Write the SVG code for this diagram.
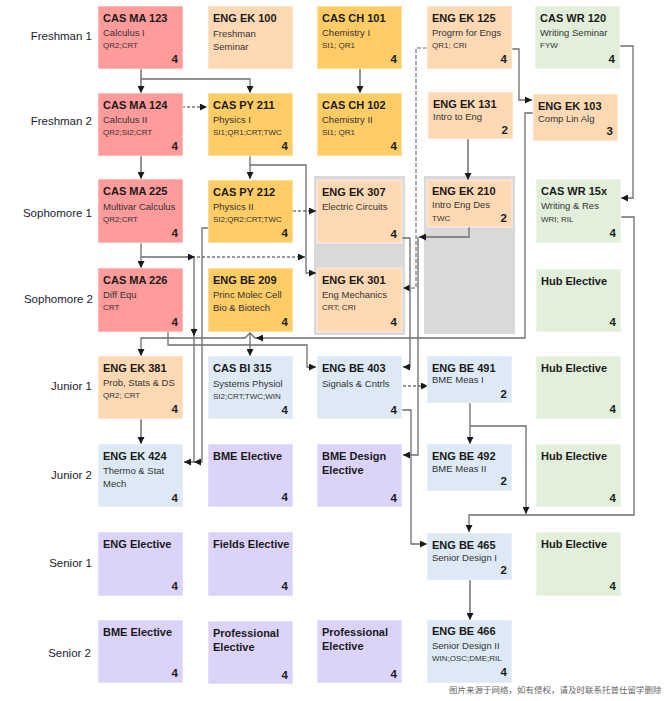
<svg xmlns="http://www.w3.org/2000/svg" width="669" height="701" viewBox="0 0 669 701">
<style>
text{font-family:"Liberation Sans",Arial,sans-serif;fill:#1a1a1a}
.t{font-size:11px;font-weight:bold}
.s{font-size:9.5px;fill:#333}
.h{font-size:8px;fill:#333}
.c{font-size:11.5px;font-weight:bold;text-anchor:end}
.lbl{font-size:11.5px;text-anchor:end;fill:#1c1c30}
.box{stroke:#ffffff;stroke-opacity:0.6;stroke-width:1}
.ma{fill:#FF9B9B}
.py{fill:#FFCC66}
.ek{fill:#FFD9B3}
.wr{fill:#E2EFDA}
.be{fill:#DDEAF6}
.el{fill:#DCD3FB}
.panel{fill:#D9D9D9}
.ln{fill:none;stroke:#6e6e6e;stroke-width:1.3}
.dk{fill:none;stroke:#4a4a4a;stroke-width:1.2}
.ds{fill:none;stroke:#333;stroke-width:1.2;stroke-dasharray:3 2}
.dg{fill:none;stroke:#666;stroke-width:1.1;stroke-dasharray:4 2}
.wm{font-family:"Noto Sans CJK SC",sans-serif;font-size:8.5px;fill:#666}
</style>
<defs>
<marker id="ar" viewBox="0 0 8 8" refX="8" refY="4" markerWidth="7" markerHeight="7" markerUnits="userSpaceOnUse" orient="auto">
<path d="M0,0 L8,4 L0,8 z" fill="#1a1a1a"/>
</marker>
</defs>
<rect width="669" height="701" fill="#ffffff"/>

<g id="row-labels">
<text class="lbl" x="92" y="40">Freshman 1</text>
<text class="lbl" x="92" y="125">Freshman 2</text>
<text class="lbl" x="92" y="217">Sophomore 1</text>
<text class="lbl" x="93" y="303">Sophomore 2</text>
<text class="lbl" x="92" y="390">Junior 1</text>
<text class="lbl" x="92" y="479">Junior 2</text>
<text class="lbl" x="92" y="567">Senior 1</text>
<text class="lbl" x="91" y="657">Senior 2</text>
</g>

<g id="panels">
<rect class="panel" x="314" y="176" width="91" height="159"/>
<rect class="panel" x="424" y="176" width="91" height="158"/>
</g>

<g id="connectors">
<path class="dk" d="M141,69 V93" marker-end="url(#ar)"/>
<path class="ln" d="M141,79 H250 V93" marker-end="url(#ar)"/>
<path class="ds" d="M182,107 H207" marker-end="url(#ar)"/>
<path class="dk" d="M141,156 V179" marker-end="url(#ar)"/>
<path class="dk" d="M360,69 V93" marker-end="url(#ar)"/>
<path class="ln" d="M250,156 V179" marker-end="url(#ar)"/>
<path class="ln" d="M250,165 H306 V273 H316" marker-end="url(#ar)"/>
<path class="ds" d="M293,211 H316" marker-end="url(#ar)"/>
<path class="ln" d="M141,243 V268" marker-end="url(#ar)"/>
<path class="ln" d="M141,257 H194 V462 H184" marker-end="url(#ar)"/>
<path class="ln" d="M186,257 H195" marker-end="url(#ar)"/>
<path class="ln" d="M194,328 V336" marker-end="url(#ar)"/>
<path class="ds" d="M197,257 H305" marker-end="url(#ar)"/>
<path class="ln" d="M208,228 H202 V462 H194" marker-end="url(#ar)"/>
<path class="ln" d="M168,332 V345 H307 V367 H316" marker-end="url(#ar)"/>
<path class="ln" d="M533,113 H525 V338 H255 L250,333 L245,338 H141 V356" marker-end="url(#ar)"/>
<path class="ln" d="M264,338 H256" marker-end="url(#ar)"/>
<path class="ln" d="M250,332 V356" marker-end="url(#ar)"/>
<path class="dg" d="M427,48 H416 V288 H403" marker-end="url(#ar)"/>
<path class="ln" d="M511,49 H519 V100 H532" marker-end="url(#ar)"/>
<path class="dk" d="M468,139 V180" marker-end="url(#ar)"/>
<path class="ln" d="M619,46 H633 V198 H621" marker-end="url(#ar)"/>
<path class="ln" d="M620,217 H634 V515 H469 V532" marker-end="url(#ar)"/>
<path class="ln" d="M401,238 H410 V367 H403" marker-end="url(#ar)"/>
<path class="ln" d="M469,227 V237 H419" marker-end="url(#ar)"/>
<path class="ln" d="M418,237 V455 H403" marker-end="url(#ar)"/>
<path class="dk" d="M141,418 V444" marker-end="url(#ar)"/>
<path class="ds" d="M403,386 H428" marker-end="url(#ar)"/>
<path class="ln" d="M402,410 H411 V544 H427" marker-end="url(#ar)"/>
<path class="ln" d="M470,403 V444" marker-end="url(#ar)"/>
<path class="ln" d="M470,426 H526 V514" marker-end="url(#ar)"/>
<path class="dk" d="M470,580 V620" marker-end="url(#ar)"/>
</g>

<g id="ma123"><rect class="box ma" x="98" y="6" width="85" height="63"/>
<text class="t" x="103" y="22">CAS MA 123</text><text class="s" x="103" y="36">Calculus I</text><text class="h" x="103" y="48">QR2;CRT</text><text class="c" x="178" y="63">4</text></g>
<g id="ek100"><rect class="box ek" x="208" y="6" width="85" height="63"/>
<text class="t" x="213" y="22">ENG EK 100</text><text class="s" x="213" y="37">Freshman</text><text class="s" x="213" y="50">Seminar</text></g>
<g id="ch101"><rect class="box py" x="317" y="6" width="85" height="63"/>
<text class="t" x="322" y="22">CAS CH 101</text><text class="s" x="322" y="36">Chemistry I</text><text class="h" x="322" y="48">SI1; QR1</text><text class="c" x="397" y="63">4</text></g>
<g id="ek125"><rect class="box ek" x="427" y="6" width="85" height="63"/>
<text class="t" x="432" y="22">ENG EK 125</text><text class="s" x="432" y="36">Progrm for Engs</text><text class="h" x="432" y="48">QR1; CRI</text><text class="c" x="507" y="63">4</text></g>
<g id="wr120"><rect class="box wr" x="535" y="6" width="85" height="63"/>
<text class="t" x="540" y="22">CAS WR 120</text><text class="s" x="540" y="36">Writing Seminar</text><text class="h" x="540" y="48">FYW</text><text class="c" x="615" y="63">4</text></g>

<g id="ma124"><rect class="box ma" x="98" y="93" width="85" height="63"/>
<text class="t" x="103" y="109">CAS MA 124</text><text class="s" x="103" y="123">Calculus II</text><text class="h" x="103" y="135">QR2;SI2;CRT</text><text class="c" x="178" y="150">4</text></g>
<g id="py211"><rect class="box py" x="208" y="93" width="85" height="63"/>
<text class="t" x="213" y="109">CAS PY 211</text><text class="s" x="213" y="123">Physics I</text><text class="h" x="213" y="135">SI1;QR1;CRT;TWC</text><text class="c" x="288" y="150">4</text></g>
<g id="ch102"><rect class="box py" x="317" y="93" width="85" height="63"/>
<text class="t" x="322" y="109">CAS CH 102</text><text class="s" x="322" y="123">Chemistry II</text><text class="h" x="322" y="135">SI1; QR1</text><text class="c" x="397" y="150">4</text></g>
<g id="ek131"><rect class="box ek" x="428" y="92" width="85" height="47"/>
<text class="t" x="433" y="108">ENG EK 131</text><text class="s" x="433" y="120">Intro to Eng</text><text class="c" x="508" y="134">2</text></g>
<g id="ek103"><rect class="box ek" x="533" y="94" width="85" height="47"/>
<text class="t" x="538" y="110">ENG EK 103</text><text class="s" x="538" y="122">Comp Lin Alg</text><text class="c" x="613" y="135">3</text></g>

<g id="ma225"><rect class="box ma" x="98" y="179" width="85" height="64"/>
<text class="t" x="103" y="195">CAS MA 225</text><text class="s" x="103" y="210">Multivar Calculus</text><text class="h" x="103" y="222">QR2;CRT</text><text class="c" x="178" y="237">4</text></g>
<g id="py212"><rect class="box py" x="208" y="180" width="85" height="63"/>
<text class="t" x="213" y="196">CAS PY 212</text><text class="s" x="213" y="210">Physics II</text><text class="h" x="213" y="222">SI2;QR2;CRT;TWC</text><text class="c" x="288" y="237">4</text></g>
<g id="ek307"><rect class="box ek" x="317" y="180" width="85" height="63"/>
<text class="t" x="322" y="196">ENG EK 307</text><text class="s" x="322" y="210">Electric Circuits</text><text class="c" x="397" y="238">4</text></g>
<g id="ek210"><rect class="box ek" x="427" y="180" width="85" height="47"/>
<text class="t" x="432" y="195">ENG EK 210</text><text class="s" x="432" y="208">Intro Eng Des</text><text class="h" x="432" y="221">TWC</text><text class="c" x="507" y="222">2</text></g>
<g id="wr15x"><rect class="box wr" x="536" y="179" width="85" height="64"/>
<text class="t" x="541" y="195">CAS WR 15x</text><text class="s" x="541" y="209">Writing &amp; Res</text><text class="h" x="541" y="222">WRI; RIL</text><text class="c" x="616" y="237">4</text></g>

<g id="ma226"><rect class="box ma" x="98" y="268" width="85" height="64"/>
<text class="t" x="103" y="284">CAS MA 226</text><text class="s" x="103" y="298">Diff Equ</text><text class="h" x="103" y="310">CRT</text><text class="c" x="178" y="326">4</text></g>
<g id="be209"><rect class="box py" x="208" y="268" width="85" height="64"/>
<text class="t" x="213" y="284">ENG BE 209</text><text class="s" x="213" y="298">Princ Molec Cell</text><text class="s" x="213" y="311">Bio &amp; Biotech</text><text class="c" x="288" y="326">4</text></g>
<g id="ek301"><rect class="box ek" x="317" y="268" width="85" height="64"/>
<text class="t" x="322" y="284">ENG EK 301</text><text class="s" x="322" y="298">Eng Mechanics</text><text class="h" x="322" y="310">CRT; CRI</text><text class="c" x="397" y="326">4</text></g>
<g id="hub1"><rect class="box wr" x="536" y="269" width="85" height="63"/>
<text class="t" x="541" y="285">Hub Elective</text><text class="c" x="616" y="326">4</text></g>

<g id="ek381"><rect class="box ek" x="98" y="356" width="85" height="63"/>
<text class="t" x="103" y="372">ENG EK 381</text><text class="s" x="103" y="386">Prob, Stats &amp; DS</text><text class="h" x="103" y="398">QR2; CRT</text><text class="c" x="178" y="413">4</text></g>
<g id="bi315"><rect class="box be" x="208" y="356" width="85" height="63"/>
<text class="t" x="213" y="372">CAS BI 315</text><text class="s" x="213" y="387">Systems Physiol</text><text class="h" x="213" y="399">SI2;CRT;TWC;WIN</text><text class="c" x="288" y="414">4</text></g>
<g id="be403"><rect class="box be" x="317" y="356" width="85" height="63"/>
<text class="t" x="322" y="372">ENG BE 403</text><text class="s" x="322" y="387">Signals &amp; Cntrls</text><text class="c" x="397" y="414">4</text></g>
<g id="be491"><rect class="box be" x="427" y="356" width="85" height="47"/>
<text class="t" x="432" y="372">ENG BE 491</text><text class="s" x="432" y="383">BME Meas I</text><text class="c" x="507" y="398">2</text></g>
<g id="hub2"><rect class="box wr" x="536" y="356" width="85" height="63"/>
<text class="t" x="541" y="372">Hub Elective</text><text class="c" x="616" y="413">4</text></g>

<g id="ek424"><rect class="box be" x="98" y="444" width="85" height="63"/>
<text class="t" x="103" y="460">ENG EK 424</text><text class="s" x="103" y="474">Thermo &amp; Stat</text><text class="s" x="103" y="487">Mech</text><text class="c" x="178" y="502">4</text></g>
<g id="bmeel1"><rect class="box el" x="208" y="444" width="85" height="63"/>
<text class="t" x="213" y="460">BME Elective</text><text class="c" x="288" y="501">4</text></g>
<g id="bmedes"><rect class="box el" x="317" y="444" width="85" height="63"/>
<text class="t" x="322" y="460">BME Design</text><text class="t" x="322" y="474">Elective</text><text class="c" x="397" y="502">4</text></g>
<g id="be492"><rect class="box be" x="427" y="444" width="85" height="47"/>
<text class="t" x="432" y="460">ENG BE 492</text><text class="s" x="432" y="472">BME Meas II</text><text class="c" x="507" y="485">2</text></g>
<g id="hub3"><rect class="box wr" x="536" y="444" width="85" height="63"/>
<text class="t" x="541" y="460">Hub Elective</text><text class="c" x="616" y="502">4</text></g>

<g id="engel"><rect class="box el" x="98" y="532" width="85" height="64"/>
<text class="t" x="103" y="548">ENG Elective</text><text class="c" x="178" y="590">4</text></g>
<g id="fieldsel"><rect class="box el" x="208" y="532" width="85" height="64"/>
<text class="t" x="213" y="548">Fields Elective</text><text class="c" x="288" y="590">4</text></g>
<g id="be465"><rect class="box be" x="427" y="533" width="85" height="47"/>
<text class="t" x="432" y="549">ENG BE 465</text><text class="s" x="432" y="561">Senior Design I</text><text class="c" x="507" y="574">2</text></g>
<g id="hub4"><rect class="box wr" x="536" y="532" width="85" height="64"/>
<text class="t" x="541" y="548">Hub Elective</text><text class="c" x="616" y="590">4</text></g>

<g id="bmeel2"><rect class="box el" x="98" y="620" width="85" height="63"/>
<text class="t" x="103" y="636">BME Elective</text><text class="c" x="178" y="677">4</text></g>
<g id="profel1"><rect class="box el" x="208" y="621" width="85" height="63"/>
<text class="t" x="213" y="637">Professional</text><text class="t" x="213" y="651">Elective</text><text class="c" x="288" y="679">4</text></g>
<g id="profel2"><rect class="box el" x="317" y="620" width="85" height="63"/>
<text class="t" x="322" y="636">Professional</text><text class="t" x="322" y="650">Elective</text><text class="c" x="397" y="678">4</text></g>
<g id="be466"><rect class="box be" x="427" y="620" width="85" height="63"/>
<text class="t" x="432" y="635">ENG BE 466</text><text class="s" x="432" y="649">Senior Design II</text><text class="h" x="432" y="661">WIN;OSC;DME;RIL</text><text class="c" x="507" y="676">4</text></g>

<text class="wm" x="449" y="693">图片来源于网络，如有侵权，请及时联系托普仕留学删除</text>
</svg>
